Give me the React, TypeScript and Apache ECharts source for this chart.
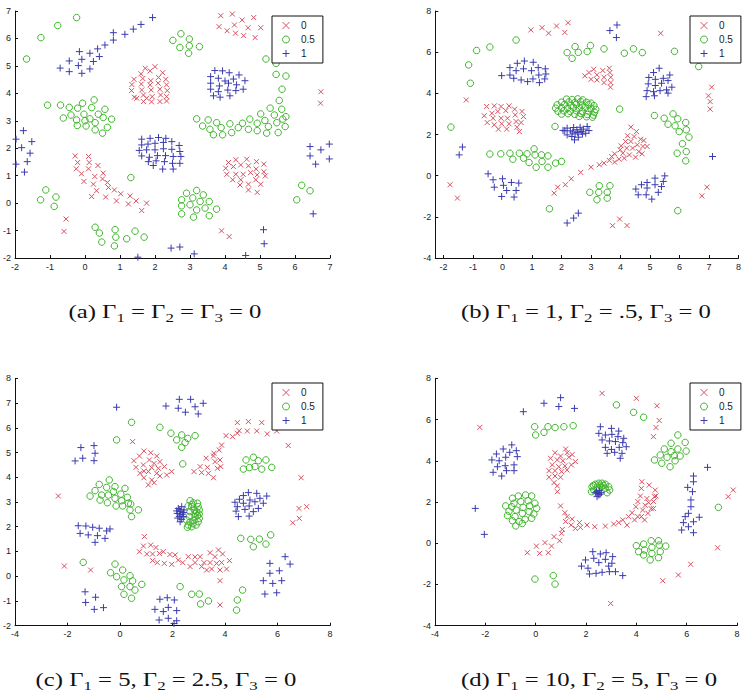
import React, { useEffect, useRef } from "react";
import * as echarts from "echarts";

// ---------- data ----------
const classLabels = ["0", "0.5", "1"];

const captions = [
  "(a) Γ{s|1} = Γ{s|2} = Γ{s|3} = 0",
  "(b) Γ{s|1} = 1, Γ{s|2} = .5, Γ{s|3} = 0",
  "(c) Γ{s|1} = 5, Γ{s|2} = 2.5, Γ{s|3} = 0",
  "(d) Γ{s|1} = 10, Γ{s|2} = 5, Γ{s|3} = 0",
];

const aXTicks = [-2, -1, 0, 1, 2, 3, 4, 5, 6, 7];
const aYTicks = [-2, -1, 0, 1, 2, 3, 4, 5, 6, 7];
const bXTicks = [-2, -1, 0, 1, 2, 3, 4, 5, 6, 7, 8];
const bYTicks = [-4, -2, 0, 2, 4, 6, 8];
const cXTicks = [-4, -2, 0, 2, 4, 6, 8];
const cYTicks = [-2, -1, 0, 1, 2, 3, 4, 5, 6, 7, 8];
const dXTicks = [-4, -2, 0, 2, 4, 6, 8];
const dYTicks = [-4, -2, 0, 2, 4, 6, 8];

// Panel (a)  Γ1 = Γ2 = Γ3 = 0
const aClass0 = [
  [3.88, 6.83], [4.21, 6.89], [3.83, 6.43], [4.06, 6.28], [4.27, 6.49], [4.49, 6.67], [4.66, 6.39], [4.82, 6.76], [5.02, 6.39], [4.30, 6.19], [4.53, 6.10], [4.86, 6.03],
  [1.72, 4.91], [2.0, 4.97], [1.6, 4.71], [1.86, 4.82], [2.22, 4.75], [1.4, 4.51], [1.65, 4.54], [1.88, 4.46], [2.1, 4.58], [2.31, 4.51], [1.34, 4.32], [1.61, 4.34], [1.86, 4.31], [2.09, 4.37], [2.33, 4.31], [1.33, 4.10], [1.62, 4.12], [1.89, 4.12], [2.14, 4.15], [2.35, 4.10], [1.41, 3.86], [1.67, 3.94], [1.92, 3.88], [2.16, 3.94], [2.33, 3.88], [1.67, 3.70], [1.9, 3.69], [2.14, 3.70], [2.33, 3.72], [1.76, 3.82], [1.48, 3.82],
  [-0.28, 1.72], [0.10, 1.70], [-0.21, 1.48], [0.12, 1.48], [-0.25, 1.25], [0.10, 1.25], [0.37, 1.37], [-0.10, 1.07], [0.28, 0.97], [0.52, 1.09], [-0.03, 0.79], [0.24, 0.69], [0.50, 0.88], [0.64, 0.75], [0.33, 0.45], [0.67, 0.57], [0.84, 0.48], [1.02, 0.34], [0.19, 0.24], [0.59, 0.22], [0.90, 0.08], [1.24, -0.03], [1.29, 0.26], [1.46, 0.08], [1.76, 0.0], [1.62, -0.27],
  [4.10, 1.48], [4.31, 1.58], [4.62, 1.60], [4.90, 1.51], [5.11, 1.42], [4.02, 1.27], [4.24, 1.33], [4.45, 1.39], [4.67, 1.36], [4.89, 1.24], [5.11, 1.14], [4.05, 1.05], [4.31, 1.05], [4.52, 1.05], [4.73, 1.11], [4.92, 1.03], [5.15, 0.99], [4.22, 0.85], [4.45, 0.85], [4.67, 0.69], [4.88, 0.85], [5.02, 0.69], [4.43, 0.66], [4.67, 0.48], [4.92, 0.39],
  [6.74, 4.06], [6.73, 3.64], [-0.54, -0.58], [-0.6, -1.03], [3.9, -1.01], [4.12, -1.22],
];
const aClass05 = [
  [-1.67, 5.25], [-1.26, 6.03], [-0.78, 6.47], [-0.24, 6.76],
  [2.74, 6.17], [2.51, 5.93], [2.98, 5.98], [2.71, 5.67], [2.98, 5.73], [3.27, 5.70], [2.96, 5.46],
  [5.17, 5.25], [5.46, 5.09], [5.46, 4.69], [5.74, 4.63], [5.63, 4.15],
  [-1.07, 3.57], [-0.70, 3.57], [-0.45, 3.49], [-0.07, 3.64], [0.26, 3.76], [-0.21, 3.46], [0.19, 3.48], [-0.62, 3.10], [-0.40, 3.21], [-0.24, 3.03], [-0.03, 3.24], [0.14, 3.07], [0.38, 3.24], [0.57, 3.42], [0.52, 3.12], [0.76, 3.06], [-0.22, 2.83], [0.03, 2.81], [0.29, 2.93], [0.29, 2.67], [0.64, 2.76], [0.50, 2.55], [0.0, 3.0],
  [3.19, 3.07], [3.36, 2.81], [3.52, 3.03], [3.57, 2.69], [3.67, 2.49], [3.76, 2.93], [3.89, 2.75], [3.93, 2.49], [4.14, 2.89], [4.19, 2.57], [4.38, 2.75], [4.50, 2.91], [4.67, 2.69], [4.71, 3.06], [4.92, 2.91], [4.92, 2.64], [5.02, 3.25], [5.14, 3.01], [5.19, 2.55], [5.24, 2.79], [5.29, 3.46], [5.41, 3.21], [5.52, 2.57], [5.55, 3.74], [5.62, 3.42], [5.65, 3.06], [5.74, 3.15], [5.72, 2.79], [5.48, 2.93],
  [2.90, 0.36], [3.19, 0.46], [3.38, 0.30], [2.76, 0.12], [3.08, 0.19], [3.29, 0.06], [3.55, 0.06], [2.76, -0.10], [3.0, -0.06], [3.19, -0.25], [3.43, -0.18], [3.76, -0.22], [2.76, -0.39], [3.10, -0.51], [3.55, -0.46],
  [-1.12, 0.48], [-1.27, 0.12], [-0.83, 0.22], [-0.88, -0.12], [1.31, 0.93],
  [0.29, -0.88], [0.41, -1.09], [0.48, -1.42], [0.86, -0.97], [0.88, -1.24], [0.84, -1.56], [1.19, -1.30], [1.43, -1.02], [1.69, -1.24],
  [6.19, 0.65], [6.43, 0.45], [6.05, 0.12],
];
const aClass1 = [
  [-0.71, 4.92], [-0.45, 5.18], [-0.45, 4.79], [-0.16, 5.52], [-0.19, 5.01], [-0.09, 5.24], [-0.09, 4.73], [0.14, 5.46], [0.24, 5.16], [0.14, 4.89], [0.41, 5.34], [0.36, 5.62], [0.57, 5.76], [0.81, 5.94], [0.81, 6.21], [1.14, 6.15], [1.38, 6.34], [1.6, 6.51], [1.93, 6.76],
  [3.71, 4.83], [3.93, 4.82], [4.12, 4.75], [4.40, 4.67], [3.59, 4.61], [3.81, 4.55], [4.0, 4.45], [4.24, 4.52], [4.57, 4.46], [3.59, 4.37], [3.84, 4.27], [4.10, 4.37], [4.33, 4.31], [3.59, 4.15], [3.81, 4.06], [4.08, 4.12], [4.31, 4.10], [4.52, 4.15], [3.67, 3.91], [3.86, 3.86], [4.14, 3.91],
  [1.62, 2.33], [1.86, 2.36], [2.1, 2.39], [2.31, 2.36], [1.62, 2.12], [2.0, 2.18], [2.24, 2.21], [2.48, 2.24], [2.69, 2.10], [1.55, 1.92], [1.76, 1.94], [2.0, 1.94], [2.24, 1.98], [2.48, 1.96], [2.71, 1.88], [1.62, 1.72], [1.84, 1.67], [2.07, 1.73], [2.30, 1.73], [2.52, 1.70], [2.74, 1.70], [1.81, 1.51], [2.03, 1.54], [2.27, 1.51], [2.50, 1.45], [2.71, 1.45], [1.95, 1.37], [2.22, 1.24], [2.52, 1.24], [1.8, 2.15],
  [-1.76, 2.64], [-1.97, 2.33], [-1.81, 2.02], [-1.52, 2.24], [-1.57, 1.82], [-1.65, 1.51], [-1.97, 1.42], [-1.73, 1.13],
  [6.43, 2.06], [6.74, 1.94], [6.98, 2.15], [6.43, 1.72], [6.59, 1.42], [6.98, 1.61],
  [6.52, -0.39], [5.10, -0.97], [5.12, -1.48], [2.46, -1.64], [2.71, -1.60], [1.51, -1.97], [3.12, -1.85], [4.59, -1.91],
];

// Panel (b)  Γ1 = 1, Γ2 = .5, Γ3 = 0
const bClass0 = [
  [0.96, 7.08], [1.34, 7.19], [1.56, 6.92], [1.83, 7.27], [2.11, 6.96], [2.22, 7.43], [5.36, 6.92], [-1.23, 3.68],
  [-0.54, 3.36], [-0.28, 3.39], [-0.05, 3.36], [0.22, 3.39], [-0.62, 2.91], [-0.36, 3.03], [-0.16, 3.12], [0.11, 3.16], [0.41, 3.23], [0.66, 3.12], [-0.32, 2.79], [-0.05, 2.79], [0.17, 2.79], [0.43, 2.95], [0.71, 2.87], [-0.52, 2.58], [-0.28, 2.47], [-0.03, 2.52], [0.22, 2.52], [0.46, 2.63], [0.63, 2.58], [-0.14, 2.26], [0.14, 2.26], [0.49, 2.35], [0.57, 2.14],
  [2.79, 4.85], [2.93, 5.01], [3.09, 5.17], [3.2, 4.90], [3.4, 5.11], [3.62, 5.22], [3.0, 4.68], [3.2, 4.65], [3.44, 4.78], [3.64, 5.01], [3.67, 4.78], [3.44, 4.52], [3.67, 4.52], [3.66, 4.30],
  [2.65, 0.16], [3.0, 0.41], [3.28, 0.53], [3.44, 0.61], [3.62, 0.74], [3.7, 0.93], [3.8, 0.66], [3.8, 1.06], [3.95, 0.80], [3.99, 1.26], [4.02, 1.45], [4.08, 1.09], [4.13, 0.85], [4.17, 1.66], [4.21, 1.34], [4.24, 1.94], [4.30, 1.01], [4.35, 2.36], [4.35, 1.66], [4.41, 1.34], [4.46, 1.90], [4.51, 0.9], [4.54, 2.14], [4.57, 1.50], [4.62, 1.17], [4.68, 1.77], [4.73, 1.06], [4.76, 1.42], [4.79, 1.71], [4.90, 1.42],
  [1.75, -0.85], [1.87, -0.56], [2.13, -0.44], [2.33, -0.15],
  [-1.78, -0.44], [-1.53, -1.09], [6.93, -0.56], [6.76, -0.98], [3.97, -2.11], [3.73, -2.43], [4.22, -2.42],
  [7.09, 4.30], [6.98, 3.88], [7.04, 3.60], [7.04, 3.23],
];
const bClass05 = [
  [-1.75, 2.36], [-1.09, 4.49], [-1.15, 5.38], [-0.88, 6.08], [-0.43, 6.25], [0.46, 6.59],
  [2.19, 5.98], [2.36, 5.70], [2.46, 6.27], [2.57, 5.99], [2.87, 6.03], [2.98, 6.32], [3.44, 6.16], [4.13, 5.95], [4.44, 6.16], [4.74, 5.98], [5.83, 6.04], [6.65, 5.30],
  [2.17, 3.72], [2.36, 3.70], [2.55, 3.73], [2.72, 3.68],
  [2.00, 3.57], [2.25, 3.58], [2.45, 3.55], [2.65, 3.60], [2.85, 3.56], [3.00, 3.52],
  [1.85, 3.44], [2.10, 3.46], [2.32, 3.42], [2.50, 3.47], [2.70, 3.43], [2.92, 3.45], [3.10, 3.40],
  [1.80, 3.28], [2.00, 3.30], [2.20, 3.27], [2.40, 3.32], [2.60, 3.28], [2.80, 3.31], [3.00, 3.27], [3.16, 3.22],
  [1.88, 3.13], [2.08, 3.15], [2.30, 3.12], [2.50, 3.16], [2.70, 3.12], [2.90, 3.14], [3.12, 3.08],
  [2.00, 2.99], [2.22, 3.01], [2.45, 2.98], [2.65, 3.02], [2.88, 2.97], [3.08, 2.94],
  [2.60, 2.88], [2.85, 2.86], [3.05, 2.84],
  [5.15, 2.92], [5.48, 2.79], [5.61, 2.50], [5.78, 3.0], [5.94, 2.76], [5.85, 2.42], [5.99, 2.14], [6.21, 2.58], [6.23, 2.23], [6.32, 1.87], [6.10, 1.55], [6.23, 1.17], [5.92, 1.09], [6.21, 0.72],
  [3.97, 3.23], [1.78, 2.39],
  [-0.43, 1.05], [-0.06, 1.06], [0.25, 1.09], [0.35, 0.80], [0.57, 1.09], [0.71, 0.85], [0.83, 1.06], [0.90, 0.64], [1.07, 1.30], [1.10, 1.01], [1.14, 0.41], [1.32, 1.01], [1.34, 0.69], [1.54, 0.96], [1.54, 0.41], [1.80, 0.61], [2.0, 0.69],
  [2.96, -0.81], [3.28, -0.49], [3.26, -0.81], [3.20, -1.17], [3.55, -0.81], [3.64, -0.49], [3.55, -1.09], [1.59, -1.61], [5.94, -1.70],
];
const bClass1 = [
  [3.64, 7.05], [3.88, 7.32], [3.86, 6.71],
  [-0.03, 4.86], [0.25, 5.25], [0.50, 5.46], [0.74, 5.57], [1.04, 5.51], [0.25, 4.89], [0.46, 5.10], [0.71, 5.19], [0.98, 5.10], [1.21, 5.25], [1.45, 5.19], [0.38, 4.73], [0.63, 4.65], [0.85, 4.57], [1.03, 4.70], [1.25, 4.52], [1.43, 4.70], [1.47, 4.94], [1.23, 4.89],
  [5.31, 5.22], [5.12, 5.01], [4.96, 4.77], [5.18, 4.68], [5.45, 4.73], [5.67, 4.89], [4.94, 4.46], [5.18, 4.38], [5.39, 4.49], [5.61, 4.62], [4.90, 4.13], [5.12, 4.08], [5.34, 4.13], [5.56, 4.17], [5.74, 4.30], [4.87, 3.84], [5.15, 3.88], [5.61, 4.01],
  [2.11, 2.18], [2.19, 2.31], [2.30, 2.18], [2.41, 2.34], [2.52, 2.23], [2.63, 2.35], [2.74, 2.26], [2.87, 2.39], [2.93, 2.19], [2.19, 1.98], [2.35, 1.90], [2.46, 2.03], [2.57, 1.87], [2.71, 2.02], [2.82, 2.06], [2.44, 1.74], [2.55, 2.10], [2.05, 2.20], [2.38, 2.12], [2.67, 2.15],
  [-1.36, 1.39], [-1.47, 1.01],
  [-0.49, 0.09], [-0.32, -0.2], [-0.28, -0.56], [0.0, -0.15], [0.03, -0.47], [0.14, -0.72], [-0.03, -1.01], [0.30, -0.33], [0.46, -0.72], [0.55, -0.36], [0.39, -1.04],
  [4.52, -0.65], [4.71, -0.44], [4.90, -0.33], [5.17, -0.12], [5.50, -0.01], [4.60, -0.93], [4.90, -0.60], [5.17, -0.44], [5.45, -0.28], [4.87, -0.93], [5.06, -1.14], [5.28, -0.81], [5.39, -0.53],
  [2.19, -2.30], [2.41, -2.06], [2.57, -1.82],
  [7.12, 0.93],
];

// Panel (c)  Γ1 = 5, Γ2 = 2.5, Γ3 = 0
const cClass0 = [
  [-2.35, 3.24], [-2.12, 0.41], [-1.12, 0.25], [0.48, 5.44], [3.81, -1.16],
  [0.53, 4.67], [0.74, 4.86], [0.91, 5.06], [1.17, 4.99], [1.40, 4.86], [0.61, 4.40], [0.89, 4.50], [1.12, 4.70], [1.30, 4.56], [1.52, 4.63], [0.91, 4.25], [1.21, 4.39], [1.46, 4.36], [1.69, 4.43], [0.76, 4.16], [1.08, 4.23], [1.40, 4.16], [1.78, 4.09], [1.97, 4.23], [0.91, 3.98], [1.21, 3.89], [1.52, 4.05], [1.08, 3.69], [1.30, 3.78],
  [2.82, 4.23], [3.11, 4.19], [3.37, 4.16], [3.56, 3.98], [3.05, 4.43], [3.33, 4.40], [3.71, 4.36], [3.28, 4.77], [3.56, 4.86], [3.81, 4.70], [3.62, 4.63], [3.84, 4.43], [3.58, 4.97], [3.78, 5.10], [3.87, 5.30], [4.04, 5.68], [4.29, 5.64], [4.47, 5.78], [4.54, 5.88], [4.85, 5.87], [4.47, 6.21], [4.89, 6.25], [5.21, 5.87], [5.40, 6.21], [5.61, 5.75], [5.97, 5.87], [6.41, 5.28], [6.90, 3.98], [6.82, 2.74], [6.83, 2.34], [7.11, 2.81], [6.58, 2.16],
  [0.93, 1.60], [0.74, 0.99], [0.89, 1.22], [1.02, 0.90], [1.17, 1.26], [1.24, 0.90], [1.37, 1.16], [1.24, 0.63], [1.50, 0.92], [1.65, 0.99], [1.42, 0.55], [1.69, 0.52], [1.90, 0.88], [1.97, 0.48], [2.10, 0.86], [2.22, 0.65], [2.39, 0.55], [2.60, 0.79], [2.67, 0.39], [2.86, 0.78], [2.86, 0.55], [3.05, 0.79], [3.11, 0.39], [3.20, 0.55], [3.43, 0.95], [3.30, 0.25], [3.43, 0.55], [3.49, 0.29], [3.62, 0.79], [3.68, 0.52], [3.75, 1.06], [3.81, 0.25], [3.81, -0.18], [3.91, 0.90], [3.87, 0.55], [4.06, 0.29], [4.17, 0.63],
];
const cClass05 = [
  [2.39, 4.54], [-0.13, 5.51], [0.44, 6.22], [1.52, 6.02], [1.94, 5.78], [2.16, 5.51], [2.35, 5.71], [2.58, 5.57], [2.48, 5.40], [2.35, 5.21], [2.86, 5.68],
  [-1.14, 3.24], [-0.79, 3.71], [-0.76, 3.08], [-0.95, 3.46], [-0.70, 3.28], [-0.51, 3.59], [-0.44, 3.28], [-0.41, 3.89], [-0.48, 2.97], [-0.25, 3.42], [-0.19, 3.62], [-0.19, 3.15], [-0.15, 2.84], [0.03, 3.32], [0.06, 3.05], [0.10, 2.84], [0.28, 3.19], [0.32, 2.95], [0.38, 2.68], [0.41, 2.92], [0.44, 2.41], [0.70, 2.68], [0.19, 3.55],
  [4.80, 4.70], [5.08, 4.81], [5.27, 4.67], [5.56, 4.70], [4.70, 4.33], [4.93, 4.39], [5.14, 4.43], [5.40, 4.33], [5.78, 4.40],
  [4.60, 1.53], [4.98, 1.49], [5.08, 1.19], [5.31, 1.50], [5.56, 1.30], [5.74, 1.67],
  [2.67, 3.05], [2.79, 2.97], [2.95, 2.95], [2.98, 2.81], [3.02, 2.68], [3.02, 2.51], [3.02, 2.34], [2.98, 2.20], [2.90, 2.07], [2.73, 2.00], [2.57, 1.98], [2.73, 2.81], [2.67, 2.61], [2.64, 2.41], [2.67, 2.20], [2.83, 2.68], [2.86, 2.41], [2.82, 2.25], [2.86, 2.54], [2.54, 2.27], [2.60, 2.07], [2.60, 2.85], [2.75, 2.90], [2.92, 2.60], [2.95, 2.45], [2.78, 2.12],
  [-0.19, 0.49], [0.10, 0.25], [-0.36, 0.14], [-0.13, -0.02], [0.38, 0.02], [0.15, -0.15], [0.48, -0.19], [0.06, -0.42], [0.38, -0.42], [0.57, -0.56], [0.15, -0.73], [0.44, -0.89], [0.83, -0.33], [-1.40, 0.56],
  [2.29, -0.42], [2.73, -0.73], [3.02, -0.72], [3.07, -1.12], [3.37, -1.00], [4.67, -0.56], [4.47, -0.96], [4.44, -1.37],
];
const cClass1 = [
  [-0.13, 6.83], [1.75, 6.88], [2.26, 7.15], [2.69, 7.15], [2.22, 6.79], [2.49, 6.63], [2.86, 6.85], [3.17, 6.99], [2.98, 6.56],
  [-1.71, 4.66], [-1.49, 5.20], [-1.42, 4.77], [-0.99, 5.28], [-0.95, 4.97], [-0.99, 4.67],
  [2.22, 2.74], [2.29, 2.61], [2.35, 2.81], [2.18, 2.54], [2.39, 2.51], [2.26, 2.41], [2.35, 2.30], [2.16, 2.64], [2.44, 2.68], [2.41, 2.41], [2.29, 2.20], [2.20, 2.35], [2.32, 2.48], [2.42, 2.58], [2.28, 2.68],
  [4.89, 3.38], [5.21, 3.35], [5.59, 3.24], [4.70, 3.26], [4.55, 3.11], [4.95, 3.08], [5.33, 3.15], [4.38, 2.99], [4.70, 2.95], [5.14, 3.01], [5.46, 2.95], [4.47, 2.81], [4.92, 2.84], [5.27, 2.74], [4.42, 2.63], [4.76, 2.70], [5.08, 2.61], [4.51, 2.41], [4.92, 2.43],
  [-1.59, 2.04], [-1.30, 2.03], [-1.04, 1.98], [-0.79, 1.94], [-1.52, 1.73], [-1.21, 1.67], [-0.86, 1.64], [-0.51, 1.83], [-0.57, 1.53], [-0.95, 1.37], [-0.38, 1.91],
  [-1.33, -0.63], [-1.31, -1.06], [-0.93, -0.85], [-0.98, -1.34], [-0.63, -1.27],
  [1.52, -0.93], [1.80, -0.87], [2.07, -0.96], [1.33, -1.34], [1.65, -1.43], [1.84, -1.26], [2.16, -1.39], [1.49, -1.77], [1.84, -1.70], [2.16, -1.80], [2.06, -1.91],
  [5.71, 0.52], [6.29, 0.79], [6.48, 0.49], [5.71, 0.12], [6.07, 0.22], [5.46, -0.18], [5.82, -0.29], [6.16, -0.18], [5.52, -0.72], [5.97, -0.67],
];

// Panel (d)  Γ1 = 10, Γ2 = 5, Γ3 = 0
const dClass0 = [
  [-2.22, 5.62], [2.64, 7.27], [4.0, 7.03], [4.82, 6.67], [4.91, 5.95], [4.78, 5.61], [4.68, 5.17], [7.85, 2.58], [7.65, 2.26], [7.23, -0.22], [6.16, -1.02], [5.67, -1.54], [5.05, -1.82], [2.98, -2.92],
  [1.19, 4.57], [0.77, 4.39], [0.99, 4.23], [1.25, 4.39], [0.59, 4.12], [0.86, 4.04], [1.08, 4.0], [1.32, 4.17], [1.58, 3.96], [0.66, 3.80], [0.92, 3.71], [1.16, 3.75], [1.42, 3.80], [0.53, 3.52], [0.77, 3.52], [1.03, 3.47], [1.25, 3.55], [0.53, 3.20], [0.77, 3.26], [0.99, 3.20], [0.73, 2.94], [0.86, 2.78], [0.86, 2.50], [1.45, 4.30],
  [-0.33, -0.46], [0.03, -0.14], [0.16, -0.49], [0.37, 0.03], [0.50, -0.46], [0.63, -0.14], [0.73, 0.32], [0.95, 0.12], [1.03, 0.48], [1.06, 0.67], [0.99, 1.81], [1.16, 1.48], [1.19, 1.05], [1.25, 1.29], [1.41, 0.88], [1.45, 1.17], [1.58, 0.72], [1.74, 1.0], [1.78, 0.77], [2.04, 0.88], [2.35, 0.80], [2.77, 0.83], [3.10, 0.93], [3.30, 1.0], [3.46, 1.13], [3.63, 0.88], [3.69, 1.29], [3.83, 1.48], [3.93, 1.13], [3.98, 1.77], [4.06, 2.02], [4.16, 2.29], [4.20, 2.66], [4.22, 2.98], [4.25, 1.61], [4.33, 1.13], [4.35, 1.84], [4.42, 2.17], [4.51, 2.82], [4.46, 1.45], [4.59, 1.68], [4.49, 1.97], [4.68, 2.02], [4.75, 2.58], [4.72, 2.26], [4.68, 1.68], [4.78, 2.29], [4.06, 1.29], [4.20, 1.29],
];
const dClass05 = [
  [3.21, 6.71], [3.89, 6.35], [4.29, 6.11], [-0.04, 5.65], [0.0, 5.25], [0.33, 5.38], [0.49, 5.65], [0.77, 5.61], [1.12, 5.65], [1.49, 5.70], [7.26, 1.74], [-0.03, -1.74], [0.70, -1.57], [0.77, -1.98],
  [5.65, 5.25], [5.38, 4.85], [5.94, 4.89], [5.11, 4.57], [5.38, 4.44], [5.65, 4.57], [5.98, 4.47], [4.95, 4.28], [5.22, 4.17], [5.51, 4.25], [5.74, 4.23], [4.72, 4.04], [5.01, 3.88], [5.34, 3.71], [5.54, 4.0],
  [-0.95, 1.77], [-0.92, 2.18], [-0.69, 2.29], [-0.40, 2.34], [-0.16, 2.29], [-1.19, 1.81], [-0.86, 1.94], [-0.59, 2.02], [-0.30, 2.06], [-0.03, 1.94], [-1.06, 1.55], [-0.77, 1.61], [-0.50, 1.74], [-0.24, 1.81], [0.04, 1.69], [-1.12, 1.34], [-0.82, 1.29], [-0.53, 1.45], [-0.26, 1.53], [-0.07, 1.42], [-0.92, 1.09], [-0.66, 1.05], [-0.42, 1.16], [-0.16, 1.21], [-0.79, 0.84], [-0.53, 0.96],
  [2.24, 2.74], [2.37, 2.86], [2.51, 2.91], [2.64, 2.91], [2.77, 2.86], [2.90, 2.74], [2.94, 2.58], [2.31, 2.58], [2.44, 2.71], [2.61, 2.74], [2.77, 2.66], [2.22, 2.50], [2.84, 2.45], [2.30, 2.80], [2.70, 2.80], [2.55, 2.82],
  [4.0, -0.12], [4.29, -0.04], [4.59, 0.12], [4.88, 0.12], [4.09, -0.41], [4.33, -0.33], [4.62, -0.20], [4.91, -0.09], [5.17, -0.14], [4.29, -0.57], [4.62, -0.49], [4.95, -0.41], [4.55, -0.81], [4.88, -0.70],
];
const dClass1 = [
  [-2.40, 1.69], [-2.04, 0.43], [-0.49, 6.38], [0.33, 6.79], [0.99, 7.06], [0.92, 6.63], [1.54, 6.54], [6.83, 3.68],
  [-1.74, 4.04], [-1.56, 4.33], [-1.29, 4.57], [-0.95, 4.77], [-0.77, 4.49], [-1.45, 4.0], [-1.19, 4.17], [-1.03, 4.41], [-0.73, 4.20], [-1.52, 3.71], [-1.21, 3.76], [-0.86, 3.80], [-1.69, 3.44], [-1.35, 3.26], [-1.16, 3.52], [-0.86, 3.52],
  [2.57, 5.65], [3.01, 5.57], [3.30, 5.44], [2.51, 5.33], [2.77, 5.25], [3.03, 5.28], [3.27, 5.17], [3.50, 5.09], [2.64, 5.01], [2.93, 4.96], [3.17, 4.93], [3.46, 4.88], [2.77, 4.65], [3.01, 4.55], [3.32, 4.65], [3.60, 4.68], [2.84, 4.36], [3.14, 4.41], [3.43, 4.36], [3.36, 4.12],
  [2.37, 2.45], [2.51, 2.34], [2.61, 2.45], [2.44, 2.26], [2.53, 2.55], [2.48, 2.42], [2.56, 2.38], [2.42, 2.50],
  [6.27, 3.26], [6.04, 2.71], [6.27, 2.98], [6.23, 2.50], [6.17, 2.10], [6.17, 1.77], [6.07, 1.45], [5.94, 1.29], [6.27, 1.04], [6.50, 1.26], [5.87, 1.0], [6.07, 0.80], [5.80, 0.64], [6.27, 0.51],
  [1.82, -1.11], [1.98, -0.81], [2.27, -0.41], [2.31, -0.73], [2.08, -1.21], [2.14, -1.49], [2.40, -1.46], [2.51, -0.94], [2.57, -0.52], [2.64, -1.41], [2.80, -0.46], [2.77, -0.78], [2.90, -1.11], [2.93, -1.38], [3.06, -0.65], [3.17, -1.38], [3.46, -1.57], [3.03, -0.97],
];

// ---------- styling / layout ----------
const RED = "#d8505f";
const GREEN = "#3fb52c";
const BLUE = "#3b3bb0";
const CROSS = "path://M0,0L10,10M0,10L10,0";
const PLUS = "path://M5,0L5,10M0,5L10,5";
const SANS = "Liberation Sans, Arial, sans-serif";
const SERIF = "Liberation Serif, Times New Roman, serif";

const panels = [
  {
    grid: { left: 15, top: 11, width: 315, height: 247 },
    x: { min: -2, max: 7, ticks: aXTicks },
    y: { min: -2, max: 7, ticks: aYTicks },
    legend: { left: 272, top: 16 },
    caption: { x: 165, y: 312 },
    data: [aClass0, aClass05, aClass1],
  },
  {
    grid: { left: 435.3, top: 11, width: 312.8, height: 247 },
    x: { min: -2.28, max: 8, ticks: bXTicks },
    y: { min: -4, max: 8, ticks: bYTicks },
    legend: { left: 690, top: 16 },
    caption: { x: 586, y: 312 },
    data: [bClass0, bClass05, bClass1],
  },
  {
    grid: { left: 15, top: 378.3, width: 315, height: 247.4 },
    x: { min: -4, max: 8, ticks: cXTicks },
    y: { min: -2, max: 8, ticks: cYTicks },
    legend: { left: 272, top: 383 },
    caption: { x: 166, y: 680 },
    data: [cClass0, cClass05, cClass1],
  },
  {
    grid: { left: 435, top: 378.3, width: 302, height: 247.4 },
    x: { min: -4, max: 8, ticks: dXTicks },
    y: { min: -4, max: 8, ticks: dYTicks },
    legend: { left: 690, top: 383 },
    caption: { x: 589, y: 680 },
    data: [dClass0, dClass05, dClass1],
  },
];

function makeAxis(gridIndex: number, min: number, max: number, ticks: number[]) {
  return {
    type: "value",
    gridIndex,
    min,
    max,
    axisLine: { show: true, onZero: false, lineStyle: { color: "#111", width: 1 } },
    axisTick: { show: true, inside: true, length: 3, customValues: ticks, lineStyle: { color: "#111", width: 1 } },
    axisLabel: { show: true, customValues: ticks, fontSize: 9, color: "#222", fontFamily: SANS, margin: 4 },
    splitLine: { show: false },
  };
}

const markerStyles = [
  { symbol: CROSS, symbolSize: 5, color: RED },
  { symbol: "circle", symbolSize: 6.5, color: GREEN },
  { symbol: PLUS, symbolSize: 7, color: BLUE },
];

function buildOption() {
  const grid: any[] = [];
  const xAxis: any[] = [];
  const yAxis: any[] = [];
  const series: any[] = [];
  const legend: any[] = [];
  const graphic: any[] = [];

  panels.forEach((p, i) => {
    grid.push({ ...p.grid, containLabel: false });
    xAxis.push(makeAxis(i, p.x.min, p.x.max, p.x.ticks));
    yAxis.push(makeAxis(i, p.y.min, p.y.max, p.y.ticks));
    p.data.forEach((pts, k) => {
      const m = markerStyles[k];
      series.push({
        type: "scatter",
        name: classLabels[k],
        xAxisIndex: i,
        yAxisIndex: i,
        data: pts,
        symbol: m.symbol,
        symbolSize: m.symbolSize,
        silent: true,
        itemStyle: { color: "rgba(0,0,0,0)", borderColor: m.color, borderWidth: 1, opacity: 1 },
        emphasis: { disabled: true },
      });
    });
    legend.push({
      show: true,
      selectedMode: false,
      orient: "vertical",
      left: p.legend.left,
      top: p.legend.top,
      data: classLabels,
      backgroundColor: "#fff",
      borderColor: "#111",
      borderWidth: 1,
      borderRadius: 0,
      padding: [4, 8, 4, 10],
      itemWidth: 20,
      itemHeight: 7,
      itemGap: 3,
      symbolKeepAspect: true,
      itemStyle: { borderWidth: 1 },
      textStyle: { fontSize: 10, color: "#222", fontFamily: SANS, lineHeight: 11 },
    });
    graphic.push({
      type: "text",
      x: p.caption.x,
      y: p.caption.y,
      scaleX: 1.3,
      silent: true,
      style: {
        text: captions[i],
        fontSize: 19,
        fontFamily: SERIF,
        fill: "#111",
        align: "center",
        verticalAlign: "middle",
        lineHeight: 24,
        rich: {
          s: { fontSize: 13, fontFamily: SERIF, fill: "#111", lineHeight: 16, verticalAlign: "bottom" },
        },
      },
    });
  });

  return {
    animation: false,
    backgroundColor: "#fff",
    grid,
    xAxis,
    yAxis,
    series,
    legend,
    graphic,
  };
}

export default function App() {
  const ref = useRef<HTMLDivElement>(null);
  useEffect(() => {
    if (!ref.current) return;
    const chart = echarts.init(ref.current, undefined, { renderer: "svg" });
    chart.setOption(buildOption() as any);
    return () => chart.dispose();
  }, []);
  return (
    <div
      ref={ref}
      style={{ position: "fixed", left: 0, top: 0, width: 744, height: 698, background: "#fff" }}
    />
  );
}
